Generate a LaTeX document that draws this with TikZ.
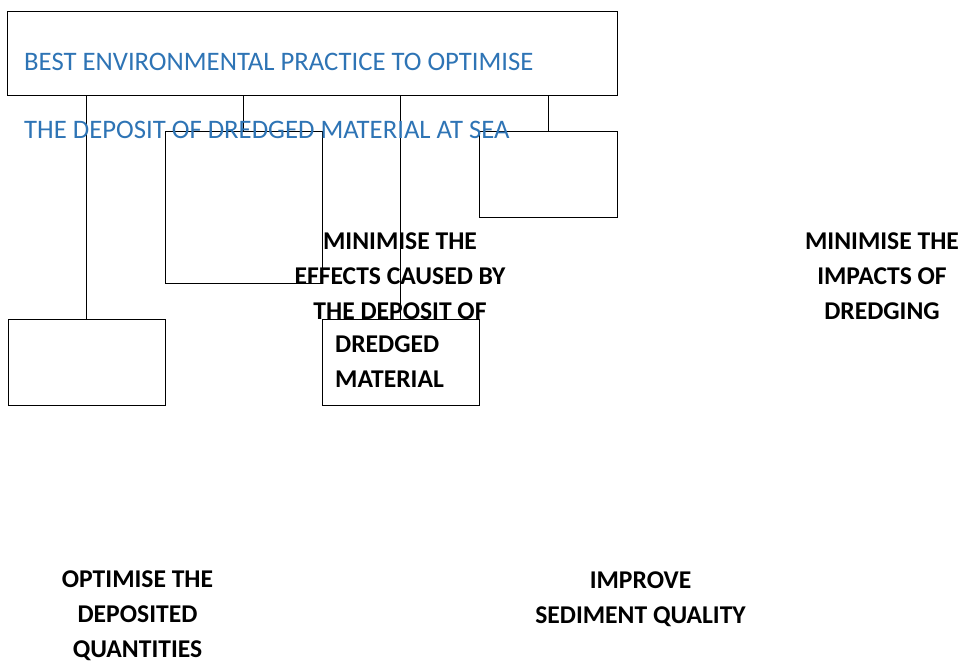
\documentclass[tikz,border=0pt]{standalone}
\usepackage{fontspec}
\setmainfont{Carlito}
\definecolor{titleblue}{HTML}{2E74B5}
\tikzset{
  box/.style={draw=black, line width=0.9pt, inner sep=0pt, minimum width=#1},
  conn/.style={draw=black, line width=0.9pt},
  bluetxt/.style={anchor=west, inner sep=0pt, text=titleblue, font=\fontsize{26.7}{30}\selectfont},
  goal/.style={align=center, inner sep=0pt, font=\bfseries\fontsize{25.6}{35}\selectfont}
}
\begin{document}
\begin{tikzpicture}[x=1pt,y=-1pt]
\useasboundingbox (0,0) rectangle (962,662);
% boxes
\node[box=610pt, minimum height=84pt] (top) at (312,53) {};
\node[box=157pt, minimum height=152pt] (ba) at (243.5,207) {};
\node[box=138pt, minimum height=86pt] (bb) at (548,174) {};
\node[box=157pt, minimum height=86pt] (bc) at (86.5,362) {};
\node[box=157pt, minimum height=86pt] (bd) at (400.5,362) {};
% connectors
\draw[conn] (top.south -| bc.north) -- (bc.north);
\draw[conn] (top.south -| ba.north) -- (ba.north);
\draw[conn] (top.south -| bd.north) -- (bd.north);
\draw[conn] (top.south -| bb.north) -- (bb.north);
% blue title
\node[bluetxt] (t1) at (24,62) {BEST ENVIRONMENTAL PRACTICE TO OPTIMISE};
\node[bluetxt] (t2) at (24,129.5) {THE DEPOSIT OF DREDGED MATERIAL AT SEA};
% goals
\node[goal, anchor=north] (g1) at (400,232.8) {MINIMISE THE\\EFFECTS CAUSED BY\\THE DEPOSIT OF};
\node[goal, anchor=north west, align=left] (g1b) at (335,335.8) {DREDGED\\MATERIAL};
\node[goal, anchor=north] (g2) at (882,232.8) {MINIMISE THE\\IMPACTS OF\\DREDGING};
\node[goal, anchor=north] (g3) at (137.5,570.5) {OPTIMISE THE\\DEPOSITED\\QUANTITIES};
\node[goal, anchor=north] (g4) at (640.5,571.8) {IMPROVE\\SEDIMENT QUALITY};
\end{tikzpicture}
\end{document}
